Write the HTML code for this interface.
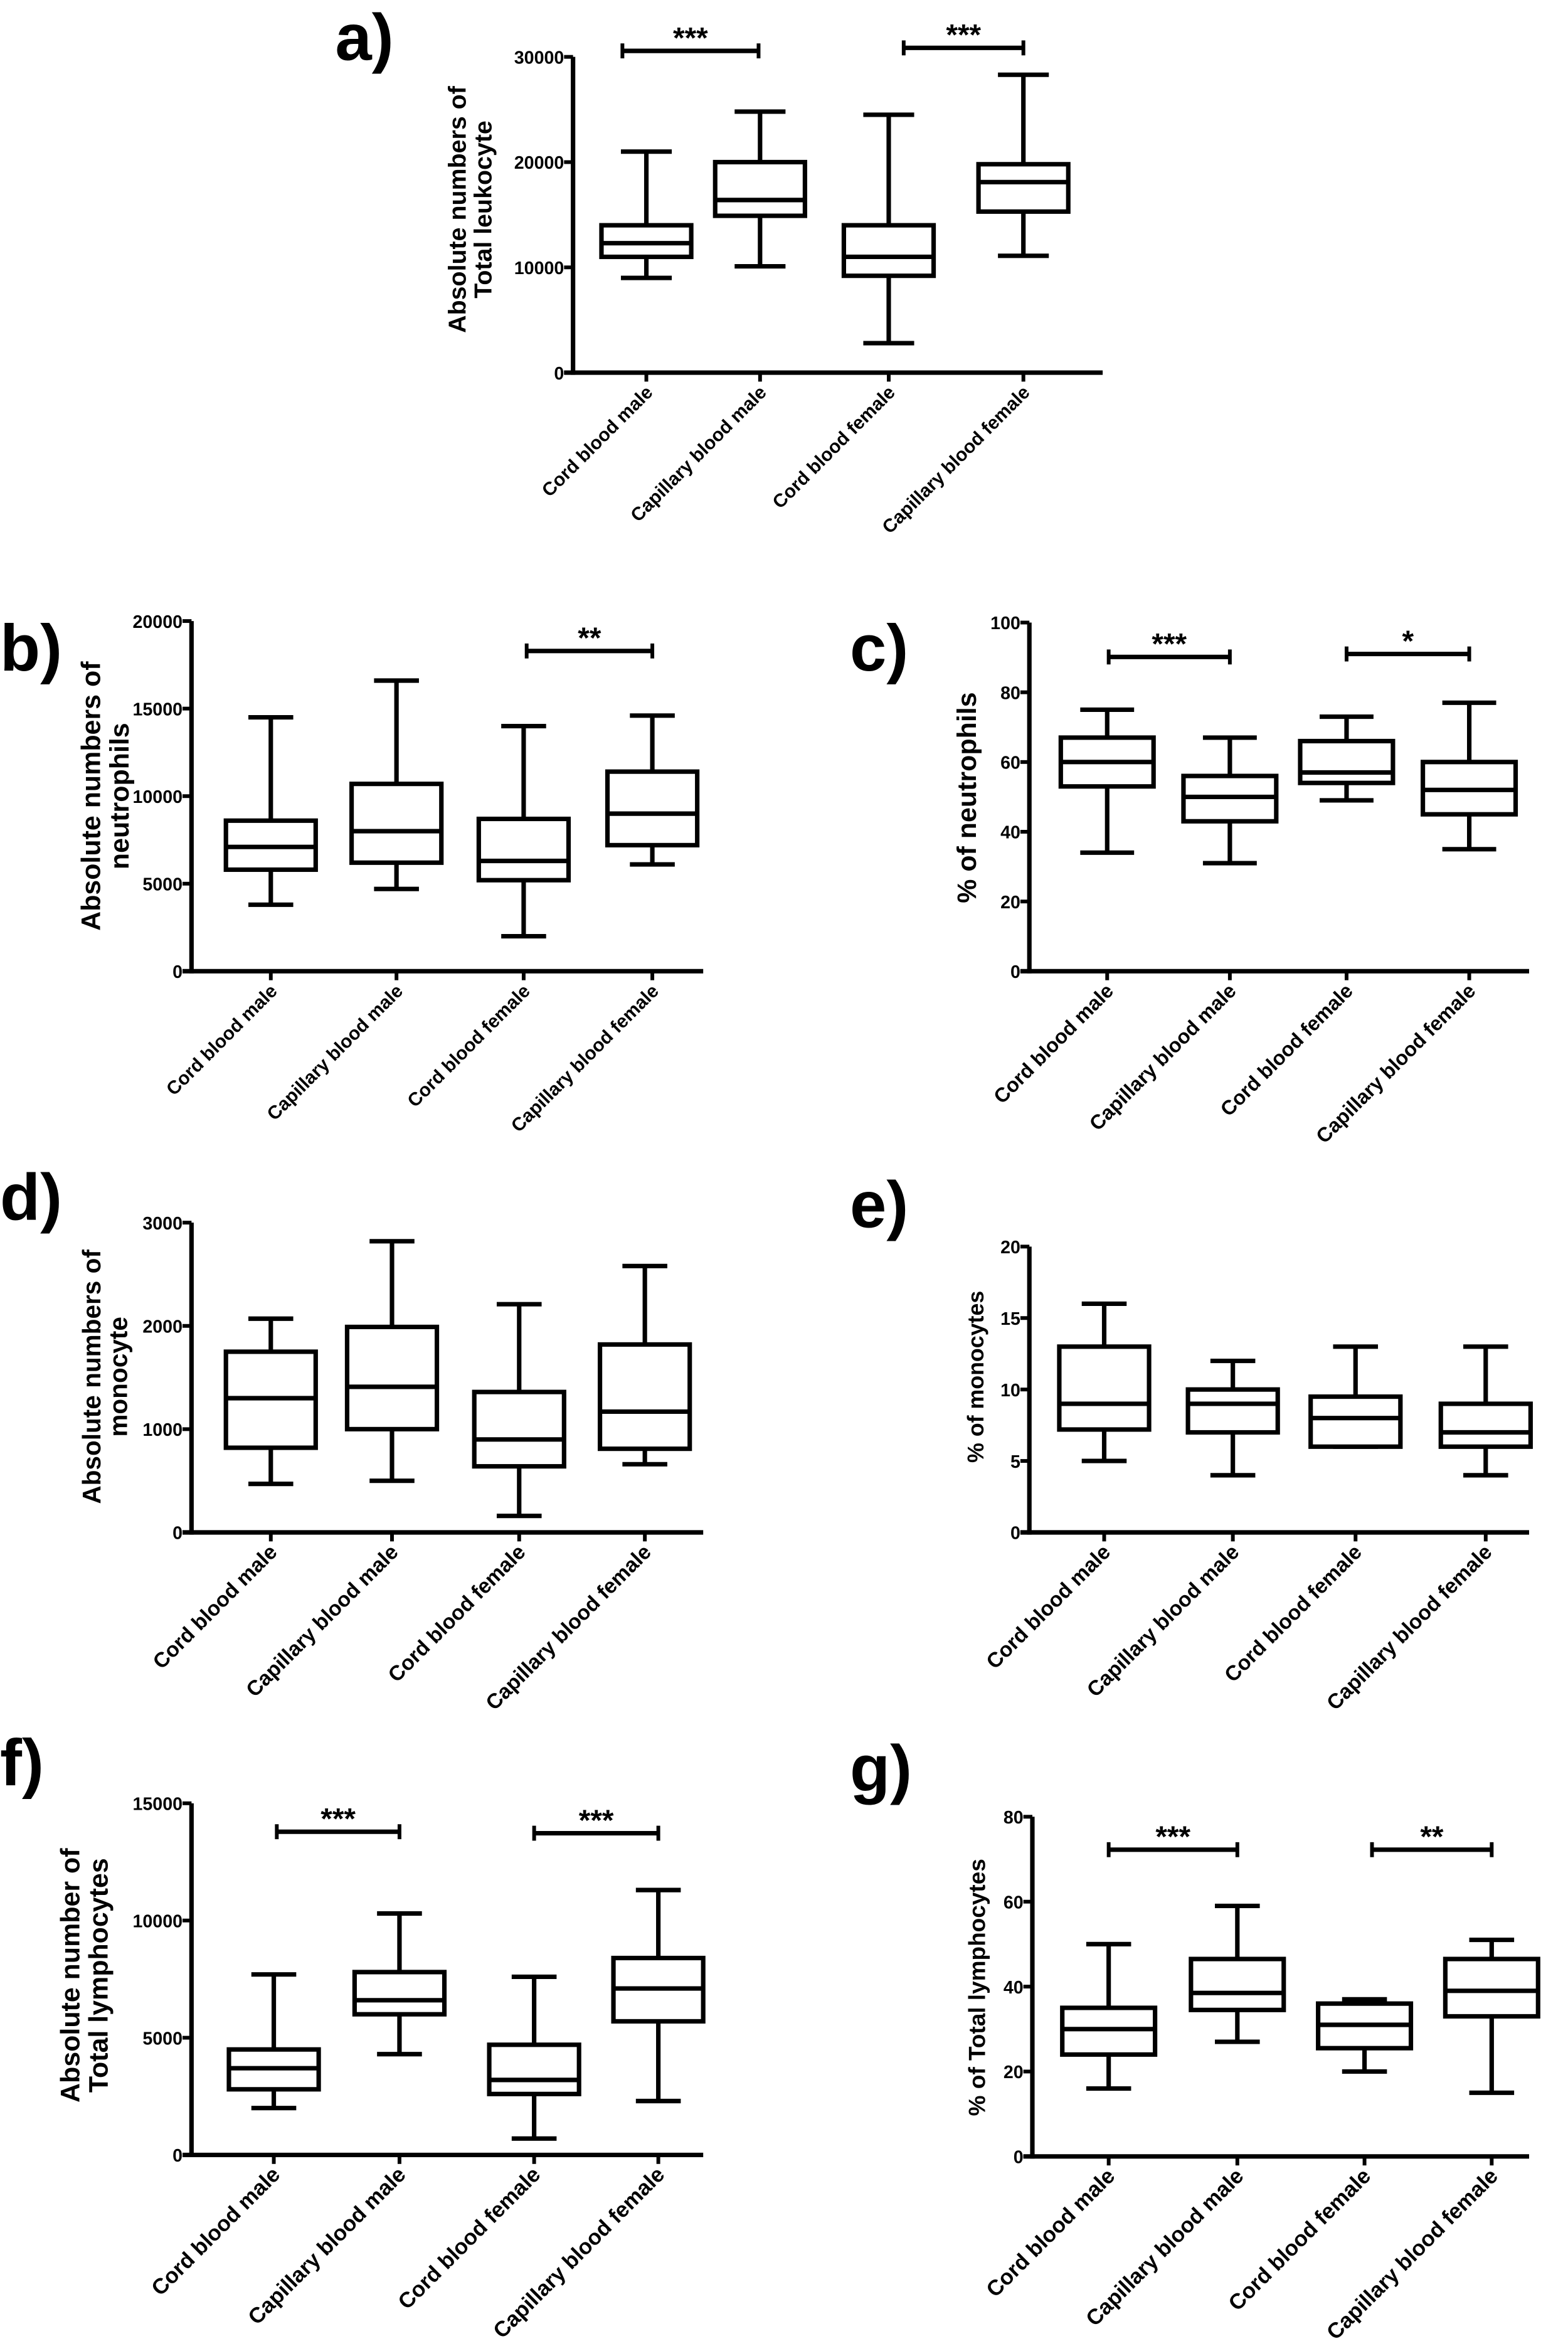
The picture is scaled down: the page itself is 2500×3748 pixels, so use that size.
<!DOCTYPE html>
<html><head><meta charset="utf-8">
<style>
html,body{margin:0;padding:0;background:#fff;}
svg{display:block;}
text{font-family:"Liberation Sans",Arial,sans-serif;font-weight:bold;fill:#000;}
.tick{font-family:"Liberation Sans Narrow","Liberation Sans",sans-serif;font-size:12px;}
</style></head>
<body>
<svg id="fig" width="2500" height="3748" viewBox="0 0 1048 1571" preserveAspectRatio="none" xmlns="http://www.w3.org/2000/svg"></svg>
<script>
const categories = ["Cord blood male","Capillary blood male","Cord blood female","Capillary blood female"];

// panel a: total leukocyte (absolute)
const aLow = [9000,10100,2800,11100];
const aQ1 = [11000,14900,9200,15300];
const aMed = [12300,16400,11000,18100];
const aQ3 = [14000,20000,14000,19800];
const aHigh = [21000,24800,24500,28300];
const aTicks = [0,10000,20000,30000];

// panel b: neutrophils (absolute)
const bLow = [3800,4700,2000,6100];
const bQ1 = [5800,6200,5200,7200];
const bMed = [7100,8000,6300,9000];
const bQ3 = [8600,10700,8700,11400];
const bHigh = [14500,16600,14000,14600];
const bTicks = [0,5000,10000,15000,20000];

// panel c: % neutrophils
const cLow = [34,31,49,35];
const cQ1 = [53,43,54,45];
const cMed = [60,50,57,52];
const cQ3 = [67,56,66,60];
const cHigh = [75,67,73,77];
const cTicks = [0,20,40,60,80,100];

// panel d: monocytes (absolute)
const dLow = [470,500,160,660];
const dQ1 = [820,1000,640,810];
const dMed = [1300,1410,900,1170];
const dQ3 = [1750,1990,1360,1820];
const dHigh = [2070,2820,2210,2580];
const dTicks = [0,1000,2000,3000];

// panel e: % monocytes
const eLow = [5,4,6,4];
const eQ1 = [7.2,7,6,6];
const eMed = [9,9,8,7];
const eQ3 = [13,10,9.5,9];
const eHigh = [16,12,13,13];
const eTicks = [0,5,10,15,20];

// panel f: lymphocytes (absolute)
const fLow = [2000,4300,700,2300];
const fQ1 = [2800,6000,2600,5700];
const fMed = [3700,6600,3200,7100];
const fQ3 = [4500,7800,4700,8400];
const fHigh = [7700,10300,7600,11300];
const fTicks = [0,5000,10000,15000];

// panel g: % lymphocytes
const gLow = [16,27,20,15];
const gQ1 = [24,34.5,25.5,33];
const gMed = [30,38.5,31,39];
const gQ3 = [35,46.5,36,46.5];
const gHigh = [50,59,37,51];
const gTicks = [0,20,40,60,80];

const NS = "http://www.w3.org/2000/svg";
const svg = document.getElementById('fig');
function mk(tag, attrs, parent){
  const e = document.createElementNS(NS, tag);
  for (const k in attrs) e.setAttribute(k, attrs[k]);
  (parent||svg).appendChild(e);
  return e;
}

function panel(p){
  const g = mk('g', {});
  
  
  const maxV = p.ticks[p.ticks.length-1];
  const y = v => p.y0 - (v / maxV) * (p.y0 - p.yTop);
  const x = i => p.cx[i];
  const lw = 3;
  const L = mk('text', {x:p.lx, y:p.ly, 'font-size':44}, g);
  L.textContent = p.id + ')';
  
  
  const ya = mk('line', {x1:p.ax, y1:p.yTop, x2:p.ax, y2:p.y0+1.5, stroke:'#000','stroke-width':lw}, g);
  
  
  const xa = mk('line', {x1:p.ax-6, y1:p.y0, x2:p.xEnd, y2:p.y0, stroke:'#000','stroke-width':lw}, g);
  
  
  p.ticks.forEach(t => {
    mk('line', {x1:p.ax-6, y1:y(t), x2:p.ax, y2:y(t), stroke:'#000','stroke-width':2.5}, g);
    const tl = mk('text', {x:p.ax-6, y:y(t)+4.5, 'text-anchor':'end', class:'tick'}, g);
    tl.textContent = t;
    
    
  });
  const yt = mk('text', {transform:`translate(${p.tx},${p.ty}) rotate(-90)`, 'text-anchor':'middle', 'font-size':p.tfs}, g);
  
  
  p.title.forEach((line, k) => {
    const ts = mk('tspan', {x:0, y:k*p.tfs*1.05 - (p.title.length-1)*p.tfs*0.52 + p.tfs*0.35}, yt);
    ts.textContent = line;
  });
  for (let i=0;i<4;i++){
    const bg = mk('g', {}, g);
    
    
    const hw = p.bw, cw = p.cw, cx = x(i);
    mk('line', {x1:cx, y1:y(p.high[i]), x2:cx, y2:y(p.q3[i]), stroke:'#000','stroke-width':lw}, bg);
    mk('line', {x1:cx, y1:y(p.q1[i]), x2:cx, y2:y(p.low[i]), stroke:'#000','stroke-width':lw}, bg);
    mk('line', {x1:cx-cw, y1:y(p.high[i]), x2:cx+cw, y2:y(p.high[i]), stroke:'#000','stroke-width':lw}, bg);
    mk('line', {x1:cx-cw, y1:y(p.low[i]), x2:cx+cw, y2:y(p.low[i]), stroke:'#000','stroke-width':lw}, bg);
    mk('rect', {x:cx-hw, y:y(p.q3[i]), width:2*hw, height:y(p.q1[i])-y(p.q3[i]), fill:'#fff', stroke:'#000','stroke-width':lw}, bg);
    mk('line', {x1:cx-hw, y1:y(p.med[i]), x2:cx+hw, y2:y(p.med[i]), stroke:'#000','stroke-width':lw}, bg);
    mk('line', {x1:cx, y1:p.y0, x2:cx, y2:p.y0+6, stroke:'#000','stroke-width':2.5}, g);
    const xl = mk('text', {transform:`translate(${cx+5},${p.y0+14}) rotate(-45)`, 'text-anchor':'end', 'font-size':p.xfs}, g);
    xl.textContent = categories[i];
    
    
  }
  p.sig.forEach(s => {
    const sg = mk('g', {}, g);
    
    
    const by = s.y;
    mk('line', {x1:s.x1, y1:by, x2:s.x2, y2:by, stroke:'#000','stroke-width':lw}, sg);
    mk('line', {x1:s.x1, y1:by-5, x2:s.x1, y2:by+5, stroke:'#000','stroke-width':2.5}, sg);
    mk('line', {x1:s.x2, y1:by-5, x2:s.x2, y2:by+5, stroke:'#000','stroke-width':2.5}, sg);
    const st = mk('text', {x:(s.x1+s.x2)/2, y:by-2, 'text-anchor':'middle', 'font-size':20}, sg);
    st.textContent = s.t;
  });
}

panel({id:'a', lx:224, ly:40, ax:383, yTop:38, y0:249, xEnd:737, cx:[432,508,594,684], bw:30, cw:17,
  ticks:aTicks, low:aLow, q1:aQ1, med:aMed, q3:aQ3, high:aHigh, title:['Absolute numbers of','Total leukocyte'], tx:314, ty:140, tfs:16.5, xfs:12.5,
  sig:[{x1:416,x2:507,y:34,t:'***'},{x1:604,x2:684,y:32,t:'***'}]});
panel({id:'b', lx:0, ly:448, ax:128, yTop:415, y0:649, xEnd:470, cx:[181,265,350,436], bw:30, cw:15,
  ticks:bTicks, low:bLow, q1:bQ1, med:bMed, q3:bQ3, high:bHigh, title:['Absolute numbers of','neutrophils'], tx:70, ty:532, tfs:18, xfs:12.5,
  sig:[{x1:352,x2:436,y:435,t:'**'}]});
panel({id:'c', lx:568, ly:448, ax:688, yTop:416, y0:649, xEnd:1022, cx:[740,822,900,982], bw:31, cw:18,
  ticks:cTicks, low:cLow, q1:cQ1, med:cMed, q3:cQ3, high:cHigh, title:['%  of neutrophils'], tx:646, ty:533, tfs:18, xfs:13.5,
  sig:[{x1:741,x2:822,y:439,t:'***'},{x1:900,x2:982,y:437,t:'*'}]});
panel({id:'d', lx:0, ly:815, ax:128, yTop:817, y0:1024, xEnd:470, cx:[181,262,347,431], bw:30, cw:15,
  ticks:dTicks, low:dLow, q1:dQ1, med:dMed, q3:dQ3, high:dHigh, title:['Absolute numbers of','monocyte'], tx:70, ty:920, tfs:17, xfs:14,
  sig:[]});
panel({id:'e', lx:568, ly:820, ax:688, yTop:833, y0:1024, xEnd:1022, cx:[738,824,906,993], bw:30, cw:15,
  ticks:eTicks, low:eLow, q1:eQ1, med:eMed, q3:eQ3, high:eHigh, title:['% of monocytes'], tx:652, ty:920, tfs:15, xfs:14,
  sig:[]});
panel({id:'f', lx:0, ly:1193, ax:128, yTop:1205, y0:1440, xEnd:470, cx:[183,267,357,440], bw:30, cw:15,
  ticks:fTicks, low:fLow, q1:fQ1, med:fMed, q3:fQ3, high:fHigh, title:['Absolute number of','Total lymphocytes'], tx:56, ty:1320, tfs:18, xfs:14.5,
  sig:[{x1:185,x2:267,y:1224,t:'***'},{x1:357,x2:440,y:1225,t:'***'}]});
panel({id:'g', lx:568, ly:1197, ax:690, yTop:1214, y0:1441, xEnd:1022, cx:[741,827,912,997], bw:31, cw:15,
  ticks:gTicks, low:gLow, q1:gQ1, med:gMed, q3:gQ3, high:gHigh, title:['% of Total lymphocytes'], tx:653, ty:1328, tfs:15.5, xfs:14.5,
  sig:[{x1:741,x2:827,y:1236,t:'***'},{x1:917,x2:997,y:1236,t:'**'}]});
</script>
</body></html>
